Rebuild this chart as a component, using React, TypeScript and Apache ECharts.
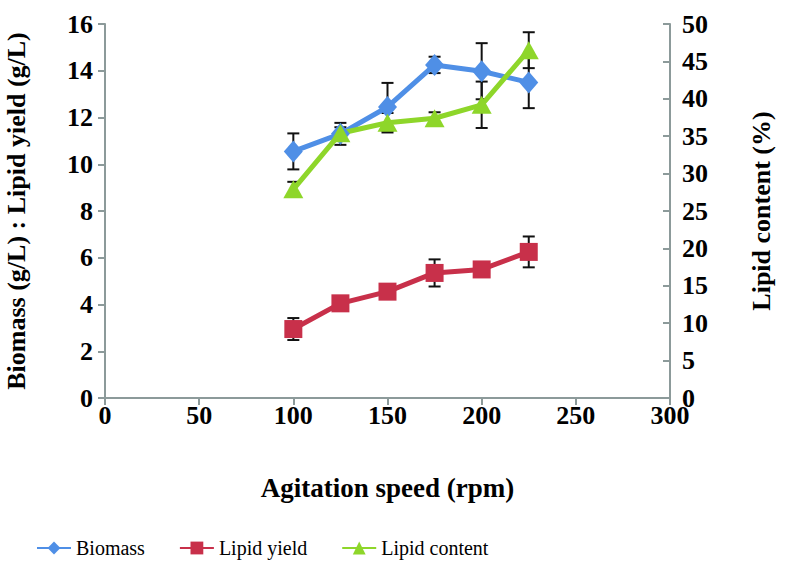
import React, { useEffect, useRef } from "react";
import * as echarts from "echarts";

const speeds = [100, 125, 150, 175, 200, 225];
const biomass = [10.55, 11.3, 12.45, 14.25, 13.98, 13.5];
const biomassErr = [0.77, 0.47, 1.03, 0.35, 1.2, 1.1];
const lipidYield = [2.95, 4.05, 4.55, 5.35, 5.5, 6.25];
const lipidYieldErr = [0.47, 0.2, 0.2, 0.58, 0.25, 0.66];
const lipidContent = [27.9, 35.4, 36.8, 37.4, 39.2, 46.5];
const lipidContentErr = [1.0, 0.8, 1.3, 0.8, 3.1, 2.4];

const FONT = "Liberation Serif, DejaVu Serif, serif";
const AXIS_COLOR = "#8c9a9a";

function pairs(vals: number[]) {
  return speeds.map((s, i) => [s, vals[i]]);
}
function errData(vals: number[], errs: number[]) {
  return speeds.map((s, i) => [s, vals[i] - errs[i], vals[i] + errs[i]]);
}

function errRender(params: any, api: any) {
  const x = api.value(0);
  const lo = api.coord([x, api.value(1)]);
  const hi = api.coord([x, api.value(2)]);
  const w = 6;
  const style = { stroke: "#111", lineWidth: 2 };
  return {
    type: "group",
    children: [
      { type: "line", shape: { x1: lo[0], y1: lo[1], x2: hi[0], y2: hi[1] }, style },
      { type: "line", shape: { x1: lo[0] - w, y1: lo[1], x2: lo[0] + w, y2: lo[1] }, style },
      { type: "line", shape: { x1: hi[0] - w, y1: hi[1], x2: hi[0] + w, y2: hi[1] }, style },
    ],
  };
}

export default function App() {
  const ref = useRef<HTMLDivElement>(null);
  useEffect(() => {
    if (!ref.current) return;
    const chart = echarts.init(ref.current, undefined, { renderer: "svg" });
    const tickLabel = { color: "#000", fontFamily: FONT, fontWeight: "bold", fontSize: 26 };
    const nameStyle = { color: "#000", fontFamily: FONT, fontWeight: "bold", fontSize: 26 };
    chart.setOption({
      animation: false,
      backgroundColor: "#fff",
      grid: { left: 105, right: 116, top: 24, bottom: 179, outerBoundsMode: "none", containLabel: false },
      legend: {
        left: 31,
        top: 533,
        itemWidth: 34,
        itemHeight: 16,
        itemGap: 34,
        textStyle: { color: "#000", fontFamily: FONT, fontSize: 20 },
        data: ["Biomass", "Lipid yield", "Lipid content"],
      },
      xAxis: {
        type: "value",
        min: 0,
        max: 300,
        interval: 50,
        name: "Agitation speed (rpm)",
        nameLocation: "middle",
        nameGap: 76,
        nameTextStyle: { ...nameStyle, fontSize: 27 },
        axisLine: { lineStyle: { color: AXIS_COLOR, width: 2 } },
        axisTick: { show: true, length: 7, lineStyle: { color: AXIS_COLOR, width: 2 } },
        axisLabel: { ...tickLabel, margin: 4 },
        splitLine: { show: false },
      },
      yAxis: [
        {
          type: "value",
          min: 0,
          max: 16,
          interval: 2,
          position: "left",
          name: "Biomass (g/L) : Lipid yield (g/L)",
          nameLocation: "middle",
          nameRotate: 90,
          nameGap: 76,
          nameTextStyle: nameStyle,
          axisLine: { show: true, lineStyle: { color: AXIS_COLOR, width: 2 } },
          axisTick: { show: true, length: 7, lineStyle: { color: AXIS_COLOR, width: 2 } },
          axisLabel: { ...tickLabel, margin: 12 },
          splitLine: { show: false },
        },
        {
          type: "value",
          min: 0,
          max: 50,
          interval: 5,
          position: "right",
          name: "Lipid content (%)",
          nameLocation: "middle",
          nameRotate: 90,
          nameGap: 78,
          nameTextStyle: nameStyle,
          axisLine: { show: true, lineStyle: { color: AXIS_COLOR, width: 2 } },
          axisTick: { show: true, inside: true, length: 7, lineStyle: { color: AXIS_COLOR, width: 2 } },
          axisLabel: { ...tickLabel, margin: 12 },
          splitLine: { show: false },
        },
      ],
      series: [
        {
          type: "custom",
          name: "biomassErr",
          renderItem: errRender,
          data: errData(biomass, biomassErr),
          yAxisIndex: 0,
          z: 1,
          silent: true,
        },
        {
          type: "custom",
          name: "lipidYieldErr",
          renderItem: errRender,
          data: errData(lipidYield, lipidYieldErr),
          yAxisIndex: 0,
          z: 1,
          silent: true,
        },
        {
          type: "custom",
          name: "lipidContentErr",
          renderItem: errRender,
          data: errData(lipidContent, lipidContentErr),
          yAxisIndex: 1,
          z: 1,
          silent: true,
        },
        {
          type: "line",
          name: "Biomass",
          data: pairs(biomass),
          yAxisIndex: 0,
          z: 3,
          color: "#4f8fe6",
          lineStyle: { width: 5, color: "#4f8fe6" },
          symbol: "diamond",
          symbolSize: [19, 22],
          itemStyle: { color: "#4f8fe6" },
        },
        {
          type: "line",
          name: "Lipid yield",
          data: pairs(lipidYield),
          yAxisIndex: 0,
          z: 3,
          color: "#c8304a",
          lineStyle: { width: 5, color: "#c8304a" },
          symbol: "rect",
          symbolSize: 18,
          itemStyle: { color: "#c8304a" },
        },
        {
          type: "line",
          name: "Lipid content",
          data: pairs(lipidContent),
          yAxisIndex: 1,
          z: 3,
          color: "#8ed62a",
          lineStyle: { width: 5, color: "#8ed62a" },
          symbol: "triangle",
          symbolSize: [20, 18],
          itemStyle: { color: "#8ed62a" },
        },
      ],
    });
    return () => chart.dispose();
  }, []);
  return <div ref={ref} style={{ width: 786, height: 577, position: "absolute", left: 0, top: 0 }} />;
}
